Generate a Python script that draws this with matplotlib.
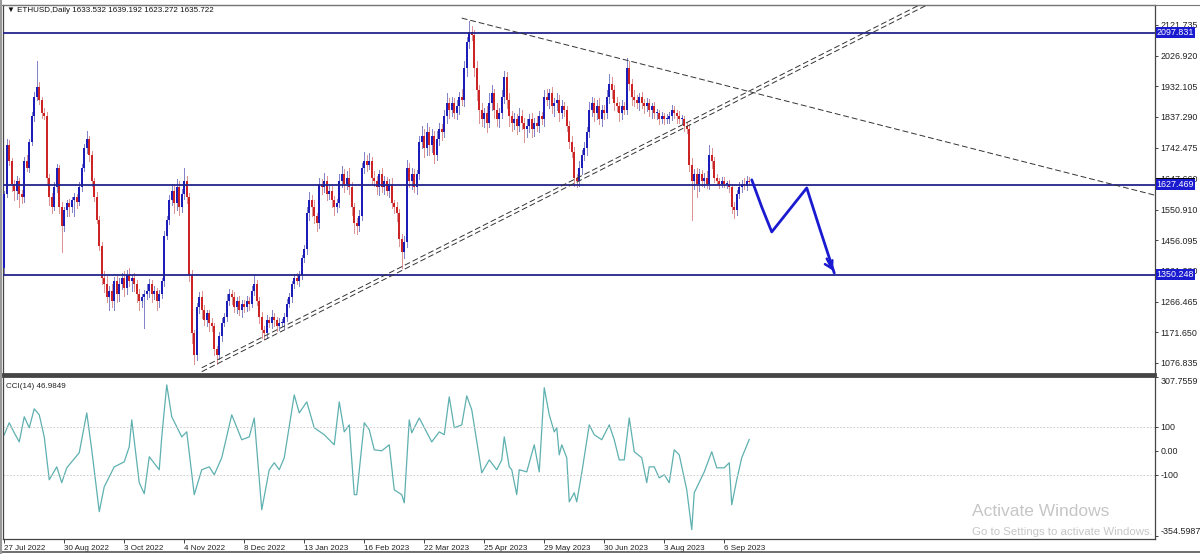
import matplotlib
matplotlib.use("Agg")
import matplotlib.pyplot as plt
import matplotlib.transforms as mtransforms
from matplotlib.lines import Line2D
import numpy as np

plt.rcParams['font.family'] = ['Liberation Sans', 'DejaVu Sans']

# ---- data (ETHUSD daily) ----
header = "ETHUSD,Daily 1633.532 1639.192 1623.272 1635.722"
first_open = 1370
closes = [
    1600, 1750, 1700, 1630, 1610, 1640, 1600, 1590, 1700, 1680, 1760, 1840, 1900, 1930, 1890, 1850, 1840, 1650, 1590, 1560, 1620, 1680, 1560, 1500,
    1550, 1570, 1560, 1580, 1590, 1575, 1620, 1680, 1740, 1770, 1720, 1640, 1590, 1520, 1440, 1340, 1320, 1280, 1300, 1270, 1330, 1290, 1320, 1340,
    1310, 1350, 1330, 1340, 1320, 1290, 1270, 1280, 1290, 1300, 1320, 1290, 1300, 1270, 1290, 1330, 1470, 1520, 1580, 1610, 1570, 1620, 1560, 1600,
    1640, 1590, 1350, 1170, 1100, 1250, 1280, 1240, 1210, 1230, 1200, 1190, 1120, 1100, 1160, 1200, 1220, 1270, 1290, 1280, 1250, 1270, 1240, 1260,
    1250, 1270, 1260, 1300, 1320, 1270, 1220, 1180, 1170, 1210, 1200, 1220, 1210, 1190, 1200, 1200, 1220, 1260, 1280, 1320, 1340, 1330, 1350, 1400,
    1430, 1540, 1580, 1560, 1530, 1510, 1630, 1620, 1640, 1600, 1610, 1580, 1560, 1570, 1640, 1660, 1630, 1650, 1620, 1560, 1510, 1500, 1530, 1680,
    1700, 1690, 1700, 1650, 1640, 1620, 1660, 1620, 1640, 1610, 1630, 1570, 1560, 1540, 1460, 1420, 1450, 1680, 1640, 1660, 1620, 1660, 1760, 1780,
    1740, 1790, 1750, 1780, 1720, 1770, 1800, 1790, 1840, 1880, 1860, 1880, 1850, 1870, 1900, 1890, 1990, 2070, 2100, 2090, 1990, 1920, 1860, 1830,
    1850, 1820, 1880, 1910, 1860, 1830, 1850, 1900, 1960, 1890, 1840, 1820, 1830, 1810, 1840, 1820, 1800, 1810, 1830, 1800, 1820, 1810, 1840, 1830,
    1900, 1890, 1910, 1870, 1880, 1890, 1850, 1870, 1860, 1810, 1760, 1730, 1650, 1640, 1680, 1720, 1740, 1790, 1860, 1880, 1850, 1870, 1830, 1860,
    1850, 1900, 1940, 1920, 1880, 1870, 1850, 1870, 1860, 1990, 1940, 1900, 1890, 1880, 1900, 1880, 1870, 1880, 1860, 1870, 1850, 1850, 1830, 1840,
    1830, 1830, 1840, 1860, 1850, 1840, 1830, 1830, 1810, 1800, 1690, 1640, 1660, 1630, 1660, 1640, 1650, 1630, 1720, 1700, 1650, 1640, 1630, 1640,
    1630, 1630, 1620, 1560, 1550, 1600, 1620, 1630, 1625, 1640, 1636,
]
# wick lengths above / below the candle body
wick_up = [
    10, 20, 15, 10, 12, 15, 10, 12, 15, 20, 10, 12, 15, 80, 15, 10, 15, 12, 10, 12, 15, 12, 10, 15,
    10, 12, 15, 10, 12, 10, 15, 12, 15, 25, 10, 12, 10, 15, 12, 10, 20, 25, 15, 20, 12, 15, 20, 15,
    20, 15, 20, 10, 15, 12, 15, 10, 12, 20, 15, 12, 15, 10, 12, 10, 15, 12, 15, 20, 15, 25, 20, 15,
    40, 15, 12, 15, 10, 12, 15, 20, 15, 12, 10, 15, 12, 10, 12, 15, 10, 20, 15, 12, 15, 10, 15, 12,
    12, 15, 10, 15, 30, 12, 10, 15, 12, 15, 10, 20, 12, 10, 15, 12, 10, 15, 12, 10, 12, 15, 10, 12,
    12, 20, 25, 15, 20, 12, 20, 15, 25, 15, 20, 15, 12, 15, 20, 25, 15, 20, 30, 15, 12, 15, 20, 15,
    30, 20, 25, 15, 20, 15, 12, 20, 15, 12, 15, 20, 12, 15, 12, 15, 20, 25, 15, 20, 15, 12, 20, 30,
    20, 30, 15, 20, 15, 25, 20, 15, 20, 30, 15, 20, 15, 20, 15, 25, 20, 15, 35, 20, 15, 20, 15, 20,
    15, 20, 30, 25, 15, 20, 15, 20, 20, 15, 20, 15, 20, 15, 25, 20, 15, 20, 15, 20, 15, 20, 15, 12,
    20, 25, 15, 20, 15, 20, 15, 20, 15, 12, 15, 20, 15, 12, 20, 15, 20, 15, 25, 20, 15, 20, 25, 15,
    15, 20, 30, 20, 15, 20, 15, 20, 15, 30, 20, 15, 20, 15, 12, 15, 12, 15, 12, 10, 15, 12, 10, 12,
    10, 15, 12, 15, 12, 10, 15, 12, 10, 12, 15, 20, 15, 20, 15, 12, 15, 20, 30, 20, 15, 12, 10, 12,
    12, 10, 12, 10, 15, 12, 15, 12, 20, 15, 12,
]
wick_dn = [
    15, 10, 12, 20, 30, 25, 40, 20, 15, 10, 12, 10, 15, 10, 12, 15, 10, 20, 25, 20, 10, 15, 20, 80,
    15, 20, 30, 15, 50, 20, 10, 12, 10, 15, 20, 15, 12, 10, 15, 20, 25, 15, 40, 20, 30, 25, 20, 15,
    25, 20, 15, 30, 20, 25, 30, 20, 95, 15, 20, 25, 15, 30, 20, 12, 15, 10, 12, 15, 30, 20, 25, 15,
    15, 20, 20, 30, 25, 15, 20, 25, 15, 20, 25, 15, 20, 25, 12, 15, 10, 12, 15, 20, 15, 20, 15, 20,
    15, 12, 20, 10, 12, 15, 20, 25, 20, 15, 12, 15, 20, 15, 12, 10, 15, 12, 10, 15, 12, 10, 15, 12,
    10, 15, 20, 30, 20, 25, 15, 20, 15, 20, 15, 20, 25, 15, 12, 20, 25, 15, 20, 25, 30, 25, 15, 12,
    15, 20, 15, 20, 15, 20, 25, 15, 20, 15, 20, 15, 20, 25, 20, 50, 20, 15, 20, 25, 15, 20, 15, 20,
    25, 20, 30, 20, 25, 15, 20, 25, 15, 20, 25, 20, 15, 20, 25, 15, 20, 25, 20, 15, 25, 30, 40, 20,
    25, 30, 15, 20, 25, 20, 25, 15, 20, 25, 30, 25, 20, 25, 15, 20, 40, 25, 20, 25, 20, 15, 20, 15,
    20, 15, 25, 20, 30, 20, 25, 15, 20, 15, 20, 15, 25, 20, 15, 20, 15, 20, 15, 20, 25, 20, 15, 20,
    20, 15, 20, 25, 20, 15, 25, 20, 15, 15, 20, 25, 20, 15, 20, 15, 20, 15, 20, 25, 15, 20, 15, 12,
    15, 12, 10, 12, 15, 20, 12, 10, 15, 12, 20, 120, 25, 40, 20, 15, 20, 12, 15, 20, 15, 10, 12, 10,
    10, 12, 15, 20, 25, 15, 12, 15, 10, 12, 10,
]

date_bars = [0, 24, 48, 72, 96, 120, 144, 168, 192, 216, 240, 264, 288]
date_labels = ["27 Jul 2022", "30 Aug 2022", "3 Oct 2022", "4 Nov 2022", "8 Dec 2022",
               "13 Jan 2023", "16 Feb 2023", "22 Mar 2023", "25 Apr 2023", "29 May 2023",
               "30 Jun 2023", "3 Aug 2023", "6 Sep 2023"]
price_ticks = [2121.735, 2026.920, 1932.105, 1837.290, 1742.475, 1647.660,
               1550.910, 1456.095, 1361.280, 1266.465, 1171.650, 1076.835]
levels = [2097.831, 1627.469, 1350.248]
last_price = 1635.722

# CCI(14) turning points (bar index, value)
cci_bars = [0, 2, 4, 6, 8, 10, 12, 14, 16, 18, 21, 23, 25, 30, 33, 35, 38, 40, 44, 48,
            50, 51, 54, 56, 58, 62, 63, 65, 67, 71, 73, 76, 79, 82, 84, 87, 91, 95, 98, 100,
            103, 106, 108, 110, 112, 116, 118, 121, 124, 128, 132, 134, 136, 138, 140, 141, 144, 146, 148, 151,
            154, 156, 159, 160, 162, 163, 166, 171, 174, 176, 178, 180, 183, 185, 187, 191, 194, 197, 199, 200,
            202, 203, 205, 206, 209, 212, 214, 216, 218, 220, 221, 222, 223, 225, 226, 228, 229, 231, 234, 236,
            239, 242, 244, 246, 248, 250, 252, 255, 257, 258, 260, 262, 264, 266, 268, 270, 273, 275, 276, 280,
            283, 285, 288, 290, 291, 293, 295, 298]
cci_vals = [67, 117, 75, 37, 142, 96, 175, 150, 58, -121, -67, -133, -71, -8, 158, 4, -254, -150, -67, -46,
            17, 129, -133, -179, -25, -79, 58, 275, 142, 58, 79, -183, -79, -67, -100, -29, 150, 46, 58, 137,
            -246, -79, -50, -79, -29, 233, 158, 204, 96, 67, 25, 204, 79, 108, -183, -183, 117, 88, 4, 0,
            25, -163, -183, -217, 129, 75, 137, 37, 79, 67, 225, 96, 108, 229, 171, -92, -38, -79, -38, 58,
            -67, -79, -183, -79, -88, 25, -88, 263, 150, 79, 96, -17, 25, -29, -213, -175, -213, -92, 108, 67,
            46, 108, 46, -38, -38, 137, -4, -29, -133, -67, -67, -113, -100, -133, 4, -17, -163, -329, -175, -88,
            -4, -71, -71, -50, -225, -121, -29, 46.9849]
cci_ticks = [307.7559, 100, 0, -100, -354.5987]
cci_tick_labels = ["307.7559", "100", "0.00", "-100", "-354.5987"]

# drawn objects (bar, price)
down_line = [(183, 2143), (460, 1596)]
up_line = [(77, 1050), (369, 2183)]
up_gap = 12
forecast_bars = [299, 303, 307, 321, 326, 332]
forecast_prices = [1643, 1559, 1482, 1618, 1497, 1355]

assert len(closes) == len(wick_up) == len(wick_dn) == 299
assert len(cci_bars) == len(cci_vals)

BLUE = "#1c1cb8"
RED = "#cc2424"
NAVY = "#23238c"
BOXBLUE = "#1a1ad0"
W, H = 1200, 554
FS = 6.4

fig = plt.figure(figsize=(12, 5.54), dpi=100)


def rect(x0, y0, x1, y1):
    return [x0 / W, 1 - y1 / H, (x1 - x0) / W, (y1 - y0) / H]


ax = fig.add_axes(rect(3, 5, 1155, 374))
axc = fig.add_axes(rect(3, 376, 1155, 539), sharex=ax)

# ---- candles ----
c = np.array(closes, dtype=float)
o = np.array([first_open] + closes[:-1], dtype=float)
hi = np.maximum(o, c) + np.array(wick_up)
lo = np.minimum(o, c) - np.array(wick_dn)
idx = np.arange(len(c))
bull = c >= o
body_col = np.where(bull, BLUE, RED)
wick_col = np.where(bull, "#8484c8", "#dc9494")
ax.vlines(idx, lo, hi, colors=wick_col, lw=0.6, zorder=2, antialiased=False)
ax.bar(idx, np.maximum(np.abs(c - o), 3), bottom=np.minimum(o, c), width=0.8,
       color=body_col, linewidth=0, zorder=3, antialiased=False)

for lv in levels:
    ax.axhline(lv, color=NAVY, lw=1.3, zorder=4)

# trend lines
(x0, y0), (x1, y1) = down_line
ax.plot([x0, x1], [y0, y1], color="#333333", lw=0.7, dashes=(6, 3), zorder=4)
(x0, y0), (x1, y1) = up_line
for off in (0, up_gap):
    ax.plot([x0 + 2, x1], [y0 + off, y1 + off], color="#333333", lw=0.7,
            dashes=(6, 3), zorder=4)

# hand drawn projection
ax.plot(forecast_bars, forecast_prices, color="#1a1ad0", lw=2.0,
        solid_capstyle="round", solid_joinstyle="round", zorder=5)
ax.annotate("", xy=(forecast_bars[-1], forecast_prices[-1]),
            xytext=(forecast_bars[-2] + 2.5, forecast_prices[-2] - 90),
            arrowprops=dict(arrowstyle="->,head_length=0.5,head_width=0.3",
                            color="#1a1ad0", lw=1.8), zorder=5)

ax.set_xlim(-0.5, 460.3)
ax.set_ylim(1042.8, 2183.5)
ax.yaxis.tick_right()
ax.set_yticks(price_ticks)
ax.set_yticklabels([f"{t:.3f}" for t in price_ticks])
ax.tick_params(axis="y", length=2, width=0.6, pad=2, labelsize=FS, colors="#222222")
ax.tick_params(axis="x", bottom=False, labelbottom=False)

# price labels on the right axis
tr = mtransforms.blended_transform_factory(ax.transAxes, ax.transData)
ax.text(1.0015, last_price - 4, f"{last_price:.3f}", transform=tr, va="center", ha="left",
        fontsize=FS, color="white", zorder=6, clip_on=False,
        bbox=dict(boxstyle="square,pad=0.12", fc="black", ec="none"))
for lv in levels:
    ax.text(1.0015, lv, f"{lv:.3f}", transform=tr, va="center", ha="left",
            fontsize=FS, color="white", zorder=7, clip_on=False,
            bbox=dict(boxstyle="square,pad=0.12", fc=BOXBLUE, ec="none"))

# ---- CCI panel ----
axc.plot(cci_bars, cci_vals, color="#5fb0b0", lw=0.9)
for lv in (100, -100):
    axc.axhline(lv, color="#c4c4c4", lw=0.6, ls=(0, (2, 2)))
axc.set_ylim(-368, 312)
axc.yaxis.tick_right()
axc.set_yticks(cci_ticks)
axc.set_yticklabels(cci_tick_labels)
axc.tick_params(axis="y", length=2, width=0.6, pad=2, labelsize=FS, colors="#222222")
labs = axc.get_yticklabels()
labs[0].set_va("top")
labs[-1].set_va("bottom")
axc.set_xticks(date_bars)
axc.set_xticklabels(date_labels, ha="left")
axc.tick_params(axis="x", length=3, width=0.6, pad=1.5, labelsize=5.8, colors="#222222")
axc.text(0.003, 0.955, "CCI(14) 46.9849", transform=axc.transAxes, fontsize=5.8,
         va="top", ha="left", color="#222222")

for a in (ax, axc):
    for s in a.spines.values():
        s.set_color("#444444")
        s.set_linewidth(0.9)
ax.spines["bottom"].set_linewidth(2)
axc.spines["top"].set_linewidth(2)

# header and frame
fig.text(7 / W, 1 - 11 / H, "\u25bc " + header, fontsize=5.8, va="center", ha="left",
         color="#111111")
fig.add_artist(Line2D([0, 1], [1 - 4.5 / H, 1 - 4.5 / H], color="#777777", lw=0.8))
fig.add_artist(Line2D([0, 1], [1 - 552 / H, 1 - 552 / H], color="#555555", lw=1.2))
fig.add_artist(Line2D([1 / W, 1 / W], [0, 1], color="#999999", lw=1.5))

# screenshot watermark
fig.text(972 / W, 1 - 512 / H, "Activate Windows", fontsize=12.5, color="#c6c6c6",
         va="center", ha="left")
fig.text(972 / W, 1 - 532 / H, "Go to Settings to activate Windows.", fontsize=8.2,
         color="#c6c6c6", va="center", ha="left")

fig.savefig("out.png", dpi=100)
